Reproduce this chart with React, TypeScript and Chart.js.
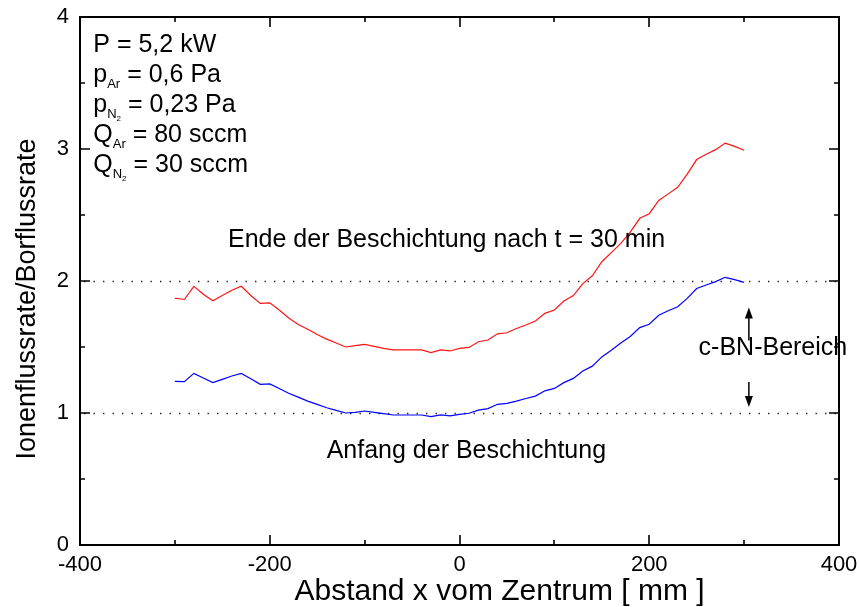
import React, { useEffect, useRef } from "react";
import { Chart, registerables } from "chart.js";

Chart.register(...registerables);

// ---- data ----
const positions = [
  -300, -290, -280, -270, -260, -250, -240, -230, -220, -210, -200, -190, -180, -170, -160, -150,
  -140, -130, -120, -110, -100, -90, -80, -70, -60, -50, -40, -30, -20, -10, 0, 10, 20, 30, 40, 50,
  60, 70, 80, 90, 100, 110, 120, 130, 140, 150, 160, 170, 180, 190, 200, 210, 220, 230, 240, 250,
  260, 270, 280, 290, 300,
];

const endOfCoating = [
  1.87, 1.86, 1.96, 1.9, 1.85, 1.89, 1.93, 1.96, 1.89, 1.83, 1.835, 1.78, 1.72, 1.67, 1.635, 1.595,
  1.56, 1.53, 1.5, 1.51, 1.52, 1.505, 1.49, 1.478, 1.478, 1.478, 1.478, 1.458, 1.478, 1.47, 1.49,
  1.497, 1.54, 1.553, 1.6, 1.608, 1.64, 1.667, 1.697, 1.755, 1.78, 1.848, 1.89, 1.98, 2.04, 2.146,
  2.215, 2.285, 2.37, 2.475, 2.51, 2.61, 2.66, 2.71, 2.81, 2.92, 2.96, 2.995, 3.045, 3.02, 2.99,
];

const startOfCoating = [
  1.24, 1.237, 1.3, 1.265, 1.23, 1.255, 1.28, 1.3, 1.26, 1.217, 1.22, 1.185, 1.15, 1.12, 1.09, 1.065,
  1.04, 1.02, 1.0, 1.005, 1.015, 1.005, 0.995, 0.985, 0.985, 0.985, 0.985, 0.972, 0.985, 0.978, 0.99,
  0.998, 1.022, 1.033, 1.066, 1.073, 1.09, 1.11, 1.128, 1.168, 1.186, 1.23, 1.262, 1.318, 1.355, 1.425,
  1.475, 1.53, 1.58, 1.647, 1.672, 1.74, 1.775, 1.805, 1.868, 1.943, 1.97, 1.995, 2.028, 2.01, 1.99,
];

const xRange = [-400, 400];
const yRange = [0, 4];
const xTickStep = 200;
const yTickStep = 1;
const referenceLevels = [1, 2];

const xTitle = "Abstand x vom Zentrum [ mm ]";
const yTitle = "Ionenflussrate/Borflussrate";
const labelEnd = "Ende der Beschichtung nach t = 30 min";
const labelStart = "Anfang der Beschichtung";
const labelRange = "c-BN-Bereich";

// text block lines: [text, level] level 0 normal, 1 subscript, 2 sub-subscript
const paramLines: [string, number][][] = [
  [["P = 5,2 kW", 0]],
  [["p", 0], ["Ar", 1], [" = 0,6 Pa", 0]],
  [["p", 0], ["N", 1], ["2", 2], [" = 0,23 Pa", 0]],
  [["Q", 0], ["Ar", 1], [" = 80 sccm", 0]],
  [["Q", 0], ["N", 1], ["2", 2], [" = 30 sccm", 0]],
];

// annotation anchors in data coordinates
const paramAnchor = { x: -386, y: 3.737 };
const endLabelAnchor = { x: -244, y: 2.26 };
const startLabelAnchor = { x: -140, y: 0.66 };
const rangeLabelAnchor = { x: 252, y: 1.44 };
const arrowX = 305;
const upArrow = { from: 1.55, to: 1.8 };
const downArrow = { from: 1.235, to: 1.045 };

const FONT = "'Liberation Sans', Arial, sans-serif";

const annotPlugin = {
  id: "annot",
  beforeDatasetsDraw(chart: any) {
    const { ctx, chartArea: a, scales } = chart;
    const y = scales.y;
    ctx.save();
    ctx.strokeStyle = "#222";
    ctx.lineWidth = 1.4;
    ctx.setLineDash([1.4, 8.1]);
    for (const v of referenceLevels) {
      const py = Math.round(y.getPixelForValue(v)) + 0.5;
      ctx.beginPath();
      ctx.moveTo(a.left + 4, py);
      ctx.lineTo(a.right, py);
      ctx.stroke();
    }
    ctx.restore();
  },
  afterDraw(chart: any) {
    const { ctx, chartArea: a, scales } = chart;
    const x = scales.x;
    const y = scales.y;
    ctx.save();
    ctx.strokeStyle = "#000";
    ctx.fillStyle = "#000";

    // frame
    ctx.lineWidth = 2;
    ctx.strokeRect(a.left, a.top, a.right - a.left, a.bottom - a.top);

    // inward ticks
    ctx.lineWidth = 1.6;
    const xt = x.ticks.map((t: any) => t.value);
    const xAll: [number, number][] = [];
    for (let i = 0; i < xt.length; i++) {
      xAll.push([xt[i], 10]);
      if (i < xt.length - 1) xAll.push([(xt[i] + xt[i + 1]) / 2, 5]);
    }
    for (const [v, len] of xAll) {
      const px = Math.round(x.getPixelForValue(v));
      ctx.beginPath();
      ctx.moveTo(px, a.bottom);
      ctx.lineTo(px, a.bottom - len);
      ctx.moveTo(px, a.top);
      ctx.lineTo(px, a.top + len);
      ctx.stroke();
    }
    const yt = y.ticks.map((t: any) => t.value);
    const yAll: [number, number][] = [];
    for (let i = 0; i < yt.length; i++) {
      yAll.push([yt[i], 10]);
      if (i < yt.length - 1) yAll.push([(yt[i] + yt[i + 1]) / 2, 5]);
    }
    for (const [v, len] of yAll) {
      const py = Math.round(y.getPixelForValue(v));
      ctx.beginPath();
      ctx.moveTo(a.left, py);
      ctx.lineTo(a.left + len, py);
      ctx.moveTo(a.right, py);
      ctx.lineTo(a.right - len, py);
      ctx.stroke();
    }

    // axis titles
    ctx.textBaseline = "alphabetic";
    ctx.textAlign = "center";
    ctx.font = `30px ${FONT}`;
    ctx.fillText(xTitle, (a.left + a.right) / 2 + 40, chart.height - 7);
    ctx.save();
    ctx.translate(35, (a.top + a.bottom) / 2 + 18);
    ctx.rotate(-Math.PI / 2);
    ctx.font = `27px ${FONT}`;
    ctx.fillText(yTitle, 0, 0);
    ctx.restore();

    // parameter block
    ctx.textAlign = "left";
    const px0 = x.getPixelForValue(paramAnchor.x);
    let base = y.getPixelForValue(paramAnchor.y);
    const sizes = [25, 13, 8];
    const offs = [0, 6, 9];
    for (const line of paramLines) {
      let cx = px0;
      for (const [t, lvl] of line) {
        ctx.font = `${sizes[lvl]}px ${FONT}`;
        ctx.fillText(t, cx, base + offs[lvl]);
        cx += ctx.measureText(t).width;
      }
      base += 30;
    }

    // labels
    ctx.font = `25px ${FONT}`;
    ctx.fillText(labelEnd, x.getPixelForValue(endLabelAnchor.x), y.getPixelForValue(endLabelAnchor.y));
    ctx.fillText(labelStart, x.getPixelForValue(startLabelAnchor.x), y.getPixelForValue(startLabelAnchor.y));
    ctx.fillText(labelRange, x.getPixelForValue(rangeLabelAnchor.x), y.getPixelForValue(rangeLabelAnchor.y));

    // arrows
    const ax = x.getPixelForValue(arrowX);
    const drawArrow = (from: number, to: number) => {
      const p1 = y.getPixelForValue(from);
      const p2 = y.getPixelForValue(to);
      const dir = p2 > p1 ? 1 : -1;
      ctx.lineWidth = 1.5;
      ctx.beginPath();
      ctx.moveTo(ax, p1);
      ctx.lineTo(ax, p2 - dir * 8);
      ctx.stroke();
      ctx.beginPath();
      ctx.moveTo(ax, p2);
      ctx.lineTo(ax - 4, p2 - dir * 11);
      ctx.lineTo(ax + 4, p2 - dir * 11);
      ctx.closePath();
      ctx.fill();
    };
    drawArrow(upArrow.from, upArrow.to);
    drawArrow(downArrow.from, downArrow.to);

    ctx.restore();
  },
};

export default function App() {
  const ref = useRef<HTMLCanvasElement | null>(null);
  useEffect(() => {
    document.body.style.margin = "0";
    if (!ref.current) return;
    const chart = new Chart(ref.current, {
      type: "line",
      data: {
        datasets: [
          {
            label: "Ende",
            data: positions.map((p, i) => ({ x: p, y: endOfCoating[i] })),
            borderColor: "rgb(255,20,20)",
            borderWidth: 1.2,
            pointRadius: 0,
            tension: 0,
          },
          {
            label: "Anfang",
            data: positions.map((p, i) => ({ x: p, y: startOfCoating[i] })),
            borderColor: "rgb(0,0,255)",
            borderWidth: 1.2,
            pointRadius: 0,
            tension: 0,
          },
        ],
      },
      options: {
        animation: false,
        responsive: false,
        events: [],
        layout: { padding: { top: 17, right: 20, left: 0, bottom: 0 } },
        plugins: { legend: { display: false }, tooltip: { enabled: false } },
        scales: {
          x: {
            type: "linear",
            min: xRange[0],
            max: xRange[1],
            grid: { display: false, drawTicks: false },
            border: { display: false },
            ticks: { stepSize: xTickStep, padding: 7, color: "#000", font: { family: FONT, size: 22 } },
            afterFit: (s: any) => {
              s.height = 62;
              s.paddingLeft = 0;
              s.paddingRight = 0;
            },
          },
          y: {
            type: "linear",
            min: yRange[0],
            max: yRange[1],
            grid: { display: false, drawTicks: false },
            border: { display: false },
            ticks: { stepSize: yTickStep, padding: 11, color: "#000", font: { family: FONT, size: 22 } },
            afterFit: (s: any) => {
              s.width = 80;
              s.paddingTop = 0;
              s.paddingBottom = 0;
            },
          },
        },
      },
      plugins: [annotPlugin],
    });
    return () => chart.destroy();
  }, []);
  return (
    <div style={{ width: 859, height: 607, background: "#fff" }}>
      <canvas ref={ref} width={859} height={607} />
    </div>
  );
}
